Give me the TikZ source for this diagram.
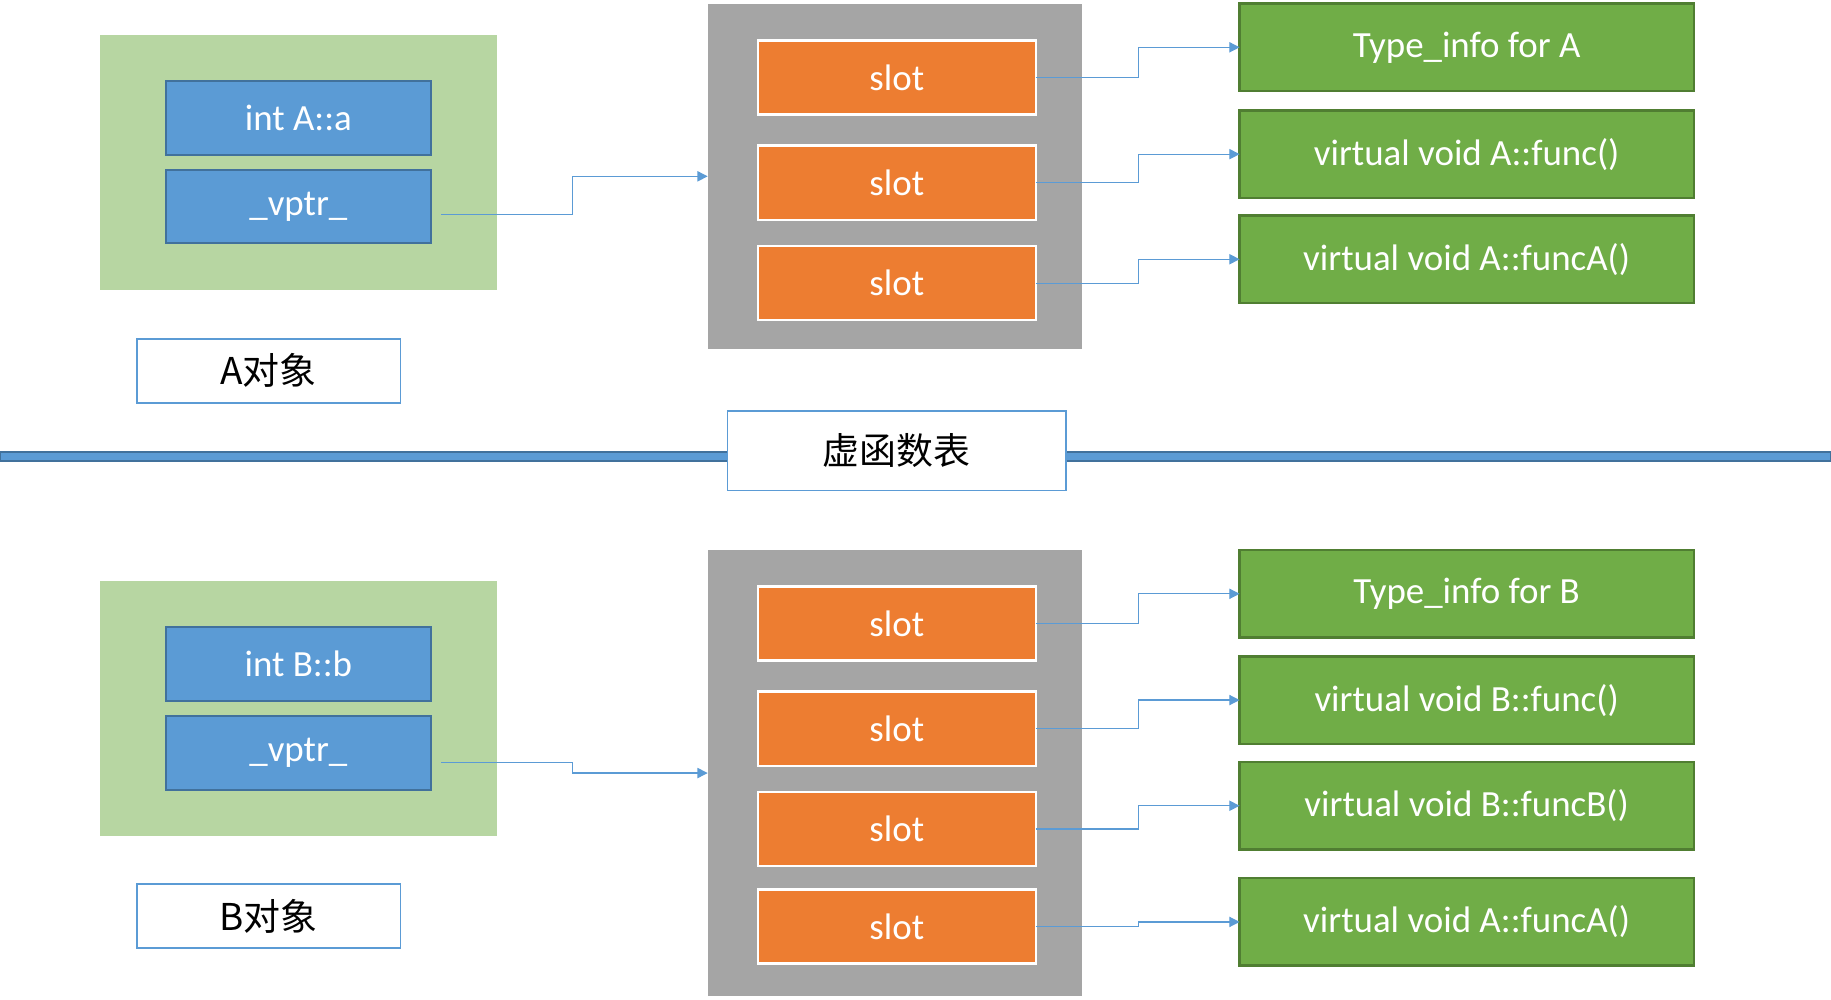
\documentclass[tikz,border=0pt]{standalone}
\usepackage{fontspec}
\setmainfont{Carlito}
\newfontfamily\cjk{Noto Sans CJK SC}
\usetikzlibrary{arrows.meta}
\definecolor{objgreen}{HTML}{B7D6A2}
\definecolor{memblue}{HTML}{5B9BD5}
\definecolor{memedge}{HTML}{41719C}
\definecolor{lineblue}{HTML}{5B9BD5}
\definecolor{tabgray}{HTML}{A5A5A5}
\definecolor{slotorange}{HTML}{ED7D31}
\definecolor{funcgreen}{HTML}{70AD47}
\definecolor{funcedge}{HTML}{507E32}

\begin{document}
\begin{tikzpicture}[x=0.02cm, y=-0.02cm, font=\fontsize{18}{22}\selectfont,
    inner sep=0pt, outer sep=0pt,
    objbox/.style={fill=objgreen, minimum width=6.8cm, minimum height=4.37cm},
    membox/.style={draw=memedge, line width=1pt, fill=memblue, text=white, minimum width=4.54cm, minimum height=1.26cm},
    namebox/.style={draw=lineblue, line width=0.9pt, fill=white, minimum width=4.52cm, minimum height=1.1cm, font=\cjk\fontsize{18}{22}\selectfont},
    tabbox/.style={fill=tabgray, minimum width=6.42cm},
    slotbox/.style={draw=white, line width=1.2pt, fill=slotorange, text=white, minimum width=4.76cm, minimum height=1.27cm},
    funcbox/.style={draw=funcedge, line width=1.2pt, fill=funcgreen, text=white, minimum width=7.78cm, minimum height=1.5cm},
    link/.style={draw=lineblue, line width=0.6pt, -{Triangle[length=5pt, width=5pt]}}]
    \useasboundingbox (0,0) rectangle (1568,856);
    % divider
    \draw[draw=memedge, fill=lineblue, line width=0.8pt] (0,387) rectangle (1568,395);
    %
    \draw
    (256,139)node(objA)[objbox]{}
    (255.5,101)node(aInt)[membox]{int A::a}
    (255.5,177)node(aVptr)[membox]{\_vptr\_}
    (230,317.5)node(aName)[namebox]{A对象}
    (766.5,151)node(tabA)[tabbox, minimum height=5.92cm]{}
    (768,66.5)node(slotA1)[slotbox]{slot}
    (768,156.5)node(slotA2)[slotbox]{slot}
    (768,242.5)node(slotA3)[slotbox]{slot}
    (1256,40.5)node(typeA)[funcbox]{Type\_info for A}
    (1256,132)node(funcA)[funcbox]{virtual void A::func()}
    (1256,222)node(funcAA)[funcbox]{virtual void A::funcA()};
    %
    \draw (768,386)node(vtab)[namebox, minimum width=5.8cm, minimum height=1.36cm]{虚函数表};
    %
    \draw
    (256,606.5)node(objB)[objbox]{}
    (255.5,568.5)node(bInt)[membox]{int B::b}
    (255.5,645)node(bVptr)[membox]{\_vptr\_}
    (230,784.5)node(bName)[namebox]{B对象}
    (766.5,662)node(tabB)[tabbox, minimum height=7.64cm]{}
    (768,534)node(slotB1)[slotbox]{slot}
    (768,624)node(slotB2)[slotbox]{slot}
    (768,710)node(slotB3)[slotbox]{slot}
    (768,793.5)node(slotB4)[slotbox]{slot}
    (1256,508.5)node(typeB)[funcbox]{Type\_info for B}
    (1256,599.5)node(funcB)[funcbox]{virtual void B::func()}
    (1256,690)node(funcBB)[funcbox]{virtual void B::funcB()}
    (1256,789.5)node(funcBA)[funcbox]{virtual void A::funcA()};
    %
    \draw[link] ([shift={(9,7)}]aVptr.east) -- ++(112,0) |- (tabA.west);
    \draw[link] (slotA1.east) -- ++(88,0) |- (typeA.west);
    \draw[link] (slotA2.east) -- ++(88,0) |- (funcA.west);
    \draw[link] (slotA3.east) -- ++(88,0) |- (funcAA.west);
    %
    \draw[link] ([shift={(9,8)}]bVptr.east) -- ++(112,0) |- (tabB.west);
    \draw[link] (slotB1.east) -- ++(88,0) |- (typeB.west);
    \draw[link] (slotB2.east) -- ++(88,0) |- (funcB.west);
    \draw[link] (slotB3.east) -- ++(88,0) |- (funcBB.west);
    \draw[link] (slotB4.east) -- ++(88,0) |- (funcBA.west);
\end{tikzpicture}
\end{document}
